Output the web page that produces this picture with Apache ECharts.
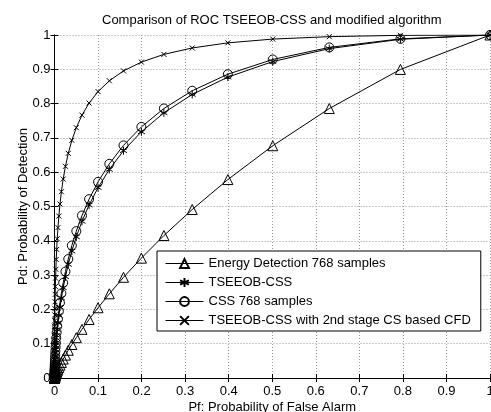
<!DOCTYPE html>
<html>
<head>
<meta charset="utf-8">
<script src="https://cdn.jsdelivr.net/npm/echarts@6/dist/echarts.min.js"></script>
<style>
html,body{margin:0;padding:0;background:#fff;}
#chart{width:491px;height:412px;}
</style>
</head>
<body>
<div id="chart"></div>
<script>
// False alarm probabilities (x values shared by every curve)
var pf = [1, 0.7943, 0.631, 0.5012, 0.3981, 0.3162, 0.2512, 0.1995, 0.1585, 0.1259,
  0.1, 0.07943, 0.0631, 0.05012, 0.03981, 0.03162, 0.02512, 0.01995, 0.01585, 0.01259,
  0.01, 0.007943, 0.00631, 0.005012, 0.003981, 0.003162, 0.002512, 0.001995, 0.001585, 0.001259,
  0.001, 0.000794, 0.000631, 0.000501, 0.000398, 0.000316, 0.000251, 0.0002, 0.000158, 0.000126,
  0.0001, 0.0000794, 0.0000631, 0.0000501, 0.0000398, 0.0000316, 0.0000251, 0.00002, 0.0000158, 0.0000126,
  0.00001, 0.00000794, 0.00000631, 0.00000501, 0.00000398, 0.00000316, 0.00000251, 0.000002, 0.00000158, 0.00000126, 0.000001];

// Energy Detection 768 samples
var pdED = [1, 0.8996, 0.7856, 0.6772, 0.5785, 0.4912, 0.4153, 0.3494, 0.2936, 0.2454,
  0.2048, 0.1706, 0.1419, 0.1176, 0.0977, 0.0808, 0.0667, 0.0551, 0.0454, 0.0375,
  0.0308, 0.0254, 0.0208, 0.0171, 0.0140, 0.0115, 0.0094, 0.0077, 0.0063, 0.0052,
  0.0042, 0.0035, 0.0028, 0.0023, 0.0019, 0.0015, 0.0013, 0.0010, 0.0008, 0.0007,
  0.0006, 0.0005, 0.0004, 0.0003, 0.0003, 0.0002, 0.0002, 0.0001, 0.0001, 0.0001,
  0.0001, 0.0001, 0.0001, 0, 0, 0, 0, 0, 0, 0, 0];

// TSEEOB-CSS
var pdTSEEOB = [1, 0.9875, 0.9603, 0.9226, 0.8772, 0.8267, 0.7731, 0.7177, 0.6628, 0.6080,
  0.5549, 0.5044, 0.4566, 0.4114, 0.3699, 0.3311, 0.2953, 0.2630, 0.2333, 0.2067,
  0.1825, 0.1608, 0.1414, 0.1240, 0.1088, 0.0948, 0.0829, 0.0723, 0.0630, 0.0547,
  0.0475, 0.0412, 0.0357, 0.0307, 0.0266, 0.0229, 0.0197, 0.0170, 0.0146, 0.0125,
  0.0108, 0.0092, 0.0079, 0.0067, 0.0058, 0.0049, 0.0042, 0.0036, 0.0031, 0.0026,
  0.0022, 0.0019, 0.0016, 0.0014, 0.0012, 0.0010, 0.0008, 0.0007, 0.0006, 0.0005, 0.0004];

// CSS 768 samples
var pdCSS = [1, 0.9888, 0.9638, 0.9287, 0.8857, 0.8375, 0.7858, 0.7320, 0.6783, 0.6244,
  0.5718, 0.5215, 0.4737, 0.4282, 0.3863, 0.3468, 0.3103, 0.2773, 0.2467, 0.2192,
  0.1941, 0.1716, 0.1513, 0.1331, 0.1170, 0.1022, 0.0896, 0.0784, 0.0685, 0.0596,
  0.0519, 0.0451, 0.0392, 0.0339, 0.0294, 0.0254, 0.0218, 0.0189, 0.0163, 0.0140,
  0.0120, 0.0103, 0.0088, 0.0076, 0.0065, 0.0056, 0.0048, 0.0041, 0.0035, 0.0030,
  0.0025, 0.0022, 0.0018, 0.0016, 0.0013, 0.0011, 0.0010, 0.0008, 0.0007, 0.0006, 0.0005];

// TSEEOB-CSS with 2nd stage CS based CFD
var pdCFD = [1, 0.9990, 0.9952, 0.9881, 0.9771, 0.9622, 0.9435, 0.9210, 0.8954, 0.8665,
  0.8350, 0.8015, 0.7664, 0.7297, 0.6929, 0.6550, 0.6171, 0.5800, 0.5430, 0.5072,
  0.4721, 0.4384, 0.4059, 0.3749, 0.3457, 0.3170, 0.2912, 0.2666, 0.2438, 0.2221,
  0.2021, 0.1838, 0.1668, 0.1506, 0.1363, 0.1228, 0.1105, 0.0996, 0.0895, 0.0802,
  0.0717, 0.0641, 0.0572, 0.0510, 0.0454, 0.0405, 0.0360, 0.0319, 0.0284, 0.0252,
  0.0223, 0.0197, 0.0174, 0.0153, 0.0136, 0.0120, 0.0106, 0.0093, 0.0082, 0.0072, 0.0063];

var seriesNames = ['Energy Detection 768 samples', 'TSEEOB-CSS', 'CSS 768 samples', 'TSEEOB-CSS with 2nd stage CS based CFD'];
var xTicks = ['0', '0.1', '0.2', '0.3', '0.4', '0.5', '0.6', '0.7', '0.8', '0.9', '1'];
var yTicks = ['0', '0.1', '0.2', '0.3', '0.4', '0.5', '0.6', '0.7', '0.8', '0.9', '1'];

function pairs(ys) { return pf.map(function (x, i) { return [x, ys[i]]; }); }

var FONT = 'Liberation Sans';
var starPath = 'path://M0,-5L0,5M-4.33,-2.5L4.33,2.5M-4.33,2.5L4.33,-2.5';
var xPath = 'path://M-3,-3L3,3M-3,3L3,-3';

function mk(name, ys, symbol, size) {
  return {
    name: name, type: 'line', data: pairs(ys),
    symbol: symbol, symbolSize: size, showSymbol: true, symbolKeepAspect: true,
    lineStyle: { color: '#000', width: 1 },
    itemStyle: { color: 'rgba(255,255,255,0)', borderColor: '#000', borderWidth: 1 },
    emphasis: { disabled: true },
    animation: false, z: 3
  };
}

var tickIdx = function (v) { return Math.round(v * 10); };

var chart = echarts.init(document.getElementById('chart'), null, { renderer: 'canvas' });
chart.setOption({
  backgroundColor: '#fff',
  animation: false,
  textStyle: { fontFamily: FONT },
  title: {
    text: 'Comparison of ROC TSEEOB-CSS and modified algorithm',
    left: 102, top: 14, padding: 0,
    textStyle: { fontFamily: FONT, fontSize: 13, fontWeight: 'normal', color: '#000' }
  },
  grid: { left: 54.5, right: 1, top: 35, bottom: 34, containLabel: false, outerBoundsMode: 'none' },
  legend: {
    left: 157, top: 251,
    orient: 'vertical',
    itemWidth: 38, itemHeight: 11, itemGap: 6,
    padding: [6, 10, 4, 8],
    backgroundColor: '#fff', borderColor: '#000', borderWidth: 1,
    lineStyle: { width: 1 },
    textStyle: { fontFamily: FONT, fontSize: 13, color: '#000' },
    data: seriesNames
  },
  xAxis: [{
    type: 'value', min: 0, max: 1, interval: 0.1, position: 'bottom',
    name: 'Pf: Probability of False Alarm', nameLocation: 'middle', nameGap: 23,
    nameMoveOverlap: false,
    nameTextStyle: { fontFamily: FONT, fontSize: 13, color: '#000' },
    axisLine: { show: true, lineStyle: { color: '#000', width: 1 } },
    axisTick: { show: true, inside: true, length: 4, lineStyle: { color: '#000' } },
    axisLabel: { fontFamily: FONT, fontSize: 13, color: '#000', margin: 7,
      formatter: function (v) { return xTicks[tickIdx(v)]; } },
    splitLine: { show: true, lineStyle: { color: '#999', type: [1, 2], width: 1 } }
  }, {
    type: 'value', min: 0, max: 1, interval: 0.1, position: 'top',
    axisLine: { show: true, lineStyle: { color: '#000', width: 1 } },
    axisTick: { show: true, inside: true, length: 4, lineStyle: { color: '#000' } },
    axisLabel: { show: false }, splitLine: { show: false }
  }],
  yAxis: [{
    type: 'value', min: 0, max: 1, interval: 0.1, position: 'left',
    name: 'Pd: Probability of Detection', nameLocation: 'middle', nameGap: 25,
    nameMoveOverlap: false,
    nameTextStyle: { fontFamily: FONT, fontSize: 13, color: '#000' },
    axisLine: { show: true, lineStyle: { color: '#000', width: 1 } },
    axisTick: { show: true, inside: true, length: 4, lineStyle: { color: '#000' } },
    axisLabel: { fontFamily: FONT, fontSize: 13, color: '#000', margin: 4,
      formatter: function (v) { return yTicks[tickIdx(v)]; } },
    splitLine: { show: true, lineStyle: { color: '#999', type: [1, 2], width: 1 } }
  }, {
    type: 'value', min: 0, max: 1, interval: 0.1, position: 'right',
    axisLine: { show: true, lineStyle: { color: '#000', width: 1 } },
    axisTick: { show: true, inside: true, length: 4, lineStyle: { color: '#000' } },
    axisLabel: { show: false }, splitLine: { show: false }
  }],
  series: [
    mk(seriesNames[0], pdED, 'triangle', 10),
    mk(seriesNames[1], pdTSEEOB, starPath, 8),
    mk(seriesNames[2], pdCSS, 'circle', 9),
    mk(seriesNames[3], pdCFD, xPath, 5)
  ]
});
</script>
</body>
</html>
